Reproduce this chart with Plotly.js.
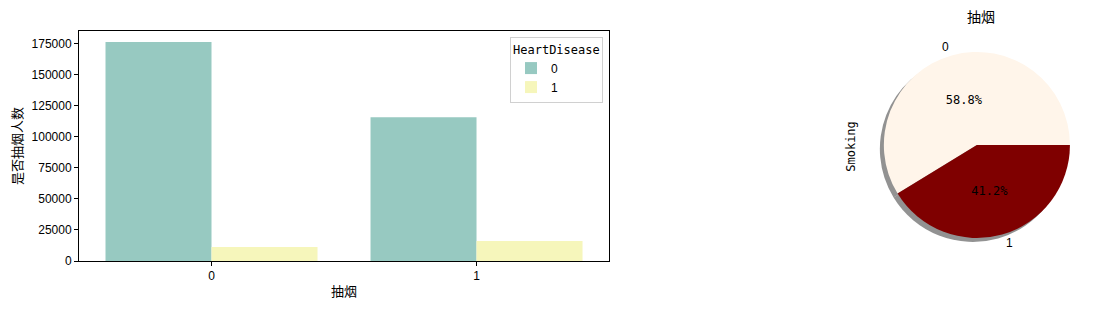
<!DOCTYPE html>
<html><head><meta charset="utf-8">
<script src="https://cdn.plot.ly/plotly-3.0.1.min.js"></script>
<style>body{margin:0;background:#fff}</style>
</head><body><div id="chart" style="width:1104px;height:311px"></div>
<script>
const smokingCats = ['0', '1'];
const hd0Counts = [176551, 115871];
const hd1Counts = [11336, 16037];
const pieLabels = ['0', '1'];
const pieValues = [187887, 131908];

const CJK = '"Noto Sans CJK SC", "Liberation Sans", sans-serif';
const TICK = '"Liberation Sans", "Noto Sans CJK SC", sans-serif';
const MONO = '"DejaVu Sans Mono", monospace';

// start first slice at 3 o'clock going counterclockwise (matplotlib default):
// equivalent Plotly clockwise layout starting at end of first slice
const pieTotal = pieValues.reduce((a, b) => a + b, 0);
const pieRot = 90 - 360 * pieValues[0] / pieTotal;

const traces = [
  {type: 'bar', name: '0', x: smokingCats, y: hd0Counts, marker: {color: '#97c9c1'}, xaxis: 'x', yaxis: 'y'},
  {type: 'bar', name: '1', x: smokingCats, y: hd1Counts, marker: {color: '#f6f6bb'}, xaxis: 'x', yaxis: 'y'},
  {type: 'pie', labels: pieLabels, values: pieValues, sort: false, direction: 'clockwise', rotation: pieRot,
   marker: {colors: ['rgba(100,100,100,0.7)', 'rgba(100,100,100,0.7)'], line: {width: 0}}, textinfo: 'none', showlegend: false,
   hoverinfo: 'skip', domain: {x: [0.800, 0.986], y: [0.083, 0.892]}},
  {type: 'pie', labels: pieLabels, values: pieValues, sort: false, direction: 'clockwise', rotation: pieRot,
   marker: {colors: ['#fff5ea', '#7f0000'], line: {width: 0}}, textinfo: 'percent', texttemplate: '%{percent:.1%}',
   textposition: 'inside', insidetextorientation: 'horizontal',
   insidetextfont: {color: '#000', size: 12, family: MONO}, showlegend: false,
   domain: {x: [0.804, 0.990], y: [0.100, 0.909]}}
];

const layout = {
  width: 1104, height: 311,
  margin: {l: 79, r: 24, t: 31, b: 50},
  paper_bgcolor: '#fff', plot_bgcolor: '#fff',
  barmode: 'group', bargap: 0.2, bargroupgap: 0,
  font: {family: TICK, size: 12, color: '#000'},
  xaxis: {domain: [0, 0.5295], type: 'category', range: [-0.5, 1.5], showline: true, mirror: true, linecolor: '#000', linewidth: 1,
    ticks: 'outside', ticklen: 4, tickcolor: '#000', showgrid: false, zeroline: false,
    tickfont: {family: TICK, size: 12},
    title: {text: '抽烟', font: {family: CJK, size: 13}, standoff: 4}},
  yaxis: {range: [0, 185378], showline: true, mirror: true, linecolor: '#000', linewidth: 1,
    ticks: 'outside', ticklen: 4, tickcolor: '#000', showgrid: false, zeroline: false,
    tickvals: [0, 25000, 50000, 75000, 100000, 125000, 150000, 175000], tickformat: 'd',
    tickfont: {family: TICK, size: 12},
    title: {text: '是否抽烟人数', font: {family: CJK, size: 13}, standoff: 6}},
  legend: {x: 0.5235, xanchor: 'right', y: 0.974, yanchor: 'top', xref: 'paper', yref: 'paper',
    bgcolor: 'rgba(255,255,255,0.8)', bordercolor: '#d0d0d0', borderwidth: 1,
    title: {text: 'HeartDisease', font: {family: MONO, size: 12}, side: 'top'},
    font: {family: TICK, size: 12}, itemwidth: 30},
  annotations: [
    {text: '抽烟', xref: 'paper', yref: 'paper', x: 0.901, y: 1.065, xanchor: 'center', yanchor: 'middle', showarrow: false,
     font: {family: CJK, size: 14}},
    {text: 'Smoking', xref: 'paper', yref: 'paper', x: 0.771, y: 0.5, xanchor: 'center', yanchor: 'middle', showarrow: false,
     textangle: -90, font: {family: MONO, size: 12}},
    {text: '0', xref: 'paper', yref: 'paper', x: 0.866, y: 0.930, xanchor: 'center', yanchor: 'middle', showarrow: false,
     font: {family: TICK, size: 12}},
    {text: '1', xref: 'paper', yref: 'paper', x: 0.930, y: 0.078, xanchor: 'center', yanchor: 'middle', showarrow: false,
     font: {family: TICK, size: 12}}
  ]
};

Plotly.newPlot('chart', traces, layout, {displayModeBar: false, staticPlot: true});
</script></body></html>
